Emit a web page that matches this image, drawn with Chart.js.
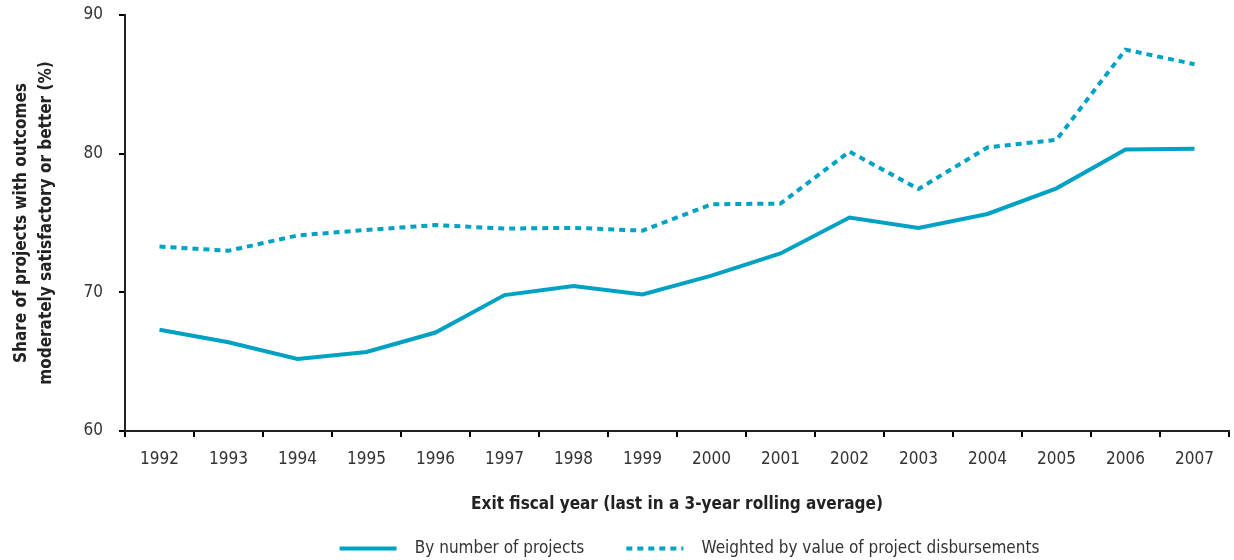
<!DOCTYPE html>
<html>
<head>
<meta charset="utf-8">
<script src="https://cdn.jsdelivr.net/npm/chart.js@4/dist/chart.umd.min.js"></script>
<style>
  html, body { margin: 0; padding: 0; background: #fff; }
  #wrap { width: 1234px; height: 560px; }
</style>
</head>
<body>
<div id="wrap"><canvas id="chart"></canvas></div>
<script>
const years = ['1992', '1993', '1994', '1995', '1996', '1997', '1998', '1999',
               '2000', '2001', '2002', '2003', '2004', '2005', '2006', '2007'];
const byNumber = [67.3, 66.4, 65.2, 65.7, 67.1, 69.8, 70.45, 69.85,
                  71.2, 72.8, 75.4, 74.65, 75.65, 77.5, 80.3, 80.35];
const weighted = [73.3, 73.0, 74.1, 74.5, 74.85, 74.6, 74.65, 74.45,
                  76.35, 76.4, 80.15, 77.45, 80.45, 81.0, 87.5, 86.45];
const yMin = 60, yMax = 90, yStep = 10;

const teal = '#00a2c3';
const font = "'Liberation Sans Narrow', 'DejaVu Sans Condensed', 'Roboto', sans-serif";

// nudge the legend to where the original sits
const legendShift = {
    id: 'legendShift',
    afterLayout(chart) {
        const lg = chart.legend;
        lg.left += 75; lg.right += 75;
        lg.top += 7; lg.bottom += 7;
    }
};

new Chart(document.getElementById('chart'), {
    type: 'line',
    data: {
        labels: years,
        datasets: [
            { label: '  By number of projects       ', data: byNumber, borderColor: teal, backgroundColor: teal,
              borderWidth: 4, pointRadius: 0, pointStyle: 'line', tension: 0, borderCapStyle: 'butt' },
            { label: '  Weighted by value of project disbursements', data: weighted, borderColor: teal, backgroundColor: teal,
              borderWidth: 4, borderDash: [6, 5], pointRadius: 0, pointStyle: 'line', tension: 0, borderCapStyle: 'butt' }
        ]
    },
    options: {
        responsive: true,
        maintainAspectRatio: false,
        animation: false,
        layout: { padding: { top: 15, right: 5, left: 0, bottom: 0 } },
        plugins: {
            legend: {
                position: 'bottom',
                labels: {
                    usePointStyle: true,
                    pointStyleWidth: 57,
                    color: '#333',
                    padding: 8,
                    font: { family: font, size: 17 },
                    generateLabels: chart => Chart.defaults.plugins.legend.labels.generateLabels(chart).map(l => {
                        const ds = chart.data.datasets[l.datasetIndex];
                        l.lineDash = ds.borderDash || [];
                        l.lineWidth = ds.borderWidth;
                        return l;
                    })
                }
            },
            tooltip: { enabled: false }
        },
        scales: {
            x: {
                offset: true,
                grid: { offset: true, drawOnChartArea: false, tickLength: 6, color: '#000', lineWidth: 2 },
                border: { color: '#222', width: 2 },
                ticks: { color: '#333', padding: 12, font: { family: font, size: 17 } },
                title: {
                    display: true,
                    text: 'Exit fiscal year (last in a 3-year rolling average)',
                    color: '#222',
                    font: { family: font, size: 17, weight: 'bold' },
                    padding: { top: 0, bottom: 10 }
                },
                afterFit: s => { s.height = 94; s.paddingLeft = 0; s.paddingRight = 0; }
            },
            y: {
                min: yMin, max: yMax,
                grid: { drawOnChartArea: false, tickLength: 6, color: '#000', lineWidth: 2 },
                border: { color: '#222', width: 2 },
                ticks: { stepSize: yStep, color: '#333', padding: 16, font: { family: font, size: 17 } },
                title: {
                    display: true,
                    text: ['Share of projects with outcomes', 'moderately satisfactory or better (%)'],
                    color: '#222',
                    font: { family: font, size: 17, weight: 'bold', lineHeight: 1.47 },
                    padding: { top: 9, bottom: 0 }
                },
                afterFit: s => { s.width = 125; s.paddingTop = 0; s.paddingBottom = 0; }
            }
        }
    },
    plugins: [legendShift]
});
</script>
</body>
</html>
